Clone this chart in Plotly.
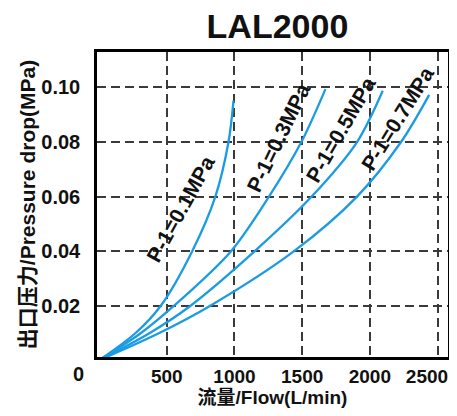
import plotly.graph_objects as go

# Data
press_levels = [0, 0.01, 0.02, 0.04, 0.06, 0.08]
flow_p01 = [0, 270, 456, 688, 859, 956, 993]
press_p01 = press_levels + [0.0952]
flow_p03 = [0, 310, 554, 975, 1255, 1494, 1672]
press_p03 = press_levels + [0.0994]
flow_p05 = [0, 375, 676, 1150, 1570, 1905, 2095]
press_p05 = press_levels + [0.0988]
flow_p07 = [0, 445, 822, 1440, 1905, 2230, 2438]
press_p07 = press_levels + [0.0973]

series_names = ["P-1=0.1MPa", "P-1=0.3MPa", "P-1=0.5MPa", "P-1=0.7MPa"]
label_flow = [605, 1323, 1785, 2205]
label_press = [0.0555, 0.0818, 0.0845, 0.0885]
label_angle = [-61, -64, -60, -58]

x_ticks = [500, 1000, 1500, 2000, 2500]
x_ticktext = ["500", "1000", "1500", "2000", "2500"]
y_ticks = [0.02, 0.04, 0.06, 0.08, 0.10]
y_ticktext = ["0.02", "0.04", "0.06", "0.08", "0.10"]

FONT = "Liberation Sans, Arial, Noto Sans CJK SC, sans-serif"
BLUE = "#1a9be3"

fig = go.Figure()
for fx, py, name in zip([flow_p01, flow_p03, flow_p05, flow_p07],
                        [press_p01, press_p03, press_p05, press_p07],
                        series_names):
    fig.add_trace(go.Scatter(x=fx, y=py, mode="lines", name=name,
                             line=dict(color=BLUE, width=2.3, shape="spline", smoothing=0.9),
                             showlegend=False))

for lx, ly, name, ang in zip(label_flow, label_press, series_names, label_angle):
    fig.add_annotation(x=lx, y=ly, xref="x", yref="y", text="<b>" + name + "</b>",
                       showarrow=False, textangle=ang,
                       font=dict(family=FONT, size=21, color="#111"))

fig.add_annotation(x=-0.054, y=-0.056, xref="paper", yref="paper", text="<b>0</b>",
                   xanchor="center", yanchor="middle",
                   showarrow=False, font=dict(family=FONT, size=20, color="#111"))

# the last label sits a little left of its gridline in the reference, to stay inside the frame
x_labels = ["<b>%s</b>" % t for t in x_ticktext]
x_labels[-1] = x_labels[-1] + "&nbsp;&nbsp;&nbsp;&nbsp;"

grid = dict(showgrid=True, gridcolor="#3a3a3a", griddash="9px,5px", gridwidth=2)
fig.update_xaxes(range=[-15, 2577], tickvals=x_ticks, ticktext=x_labels,
                 showline=True, mirror=True, linecolor="black", linewidth=2.5,
                 zeroline=False, ticks="", ticklabelstandoff=0, automargin=False,
                 ticklabeloverflow="allow",
                 tickfont=dict(family=FONT, size=19, color="#111"),
                 title=dict(text="<b>流量/Flow(L/min)</b>", font=dict(family=FONT, size=19, color="#111"),
                            standoff=9),
                 **grid)
fig.update_yaxes(range=[0.0012, 0.113], tickvals=y_ticks, ticktext=["<b>%s</b>" % t for t in y_ticktext],
                 showline=True, mirror=True, linecolor="black", linewidth=2.5,
                 zeroline=False, ticks="", ticklabelstandoff=10, automargin=False,
                 tickfont=dict(family=FONT, size=20, color="#111"),
                 title=dict(text="<b>出口压力/Pressure drop(MPa)</b>", font=dict(family=FONT, size=21, color="#111"),
                            standoff=0),
                 **grid)

# the page body adds an 8px margin; the figure is sized so the whole page fits the window
fig.update_layout(
    width=441, height=400,
    margin=dict(l=89, r=1, t=44, b=50.5),
    plot_bgcolor="white", paper_bgcolor="white",
    title=dict(text="<b>LAL2000</b>", x=0.611, xanchor="center", y=0.955, yanchor="middle",
               font=dict(family=FONT, size=34, color="#111")),
)

fig.write_html("out.html")
